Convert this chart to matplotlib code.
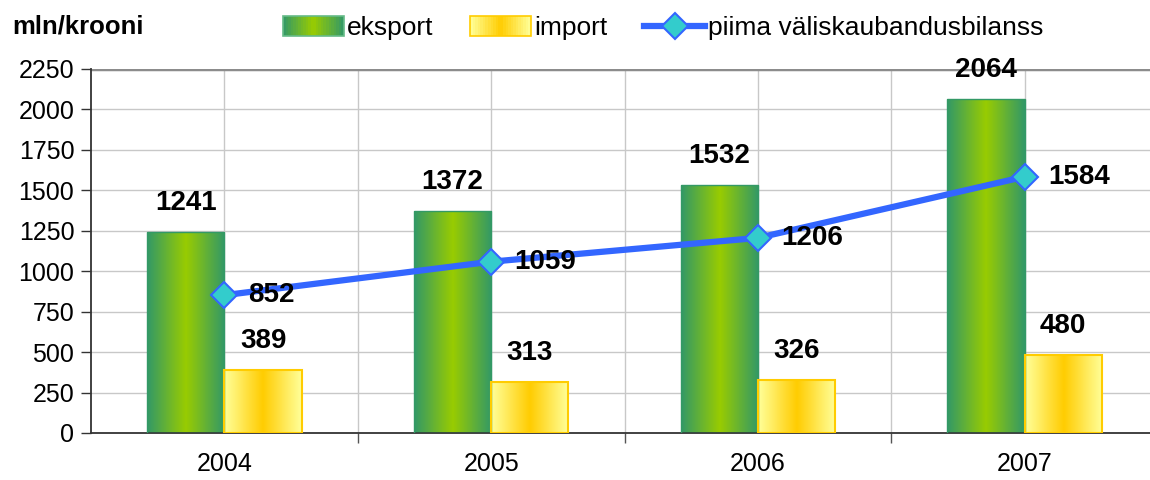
import matplotlib
matplotlib.use("Agg")
import matplotlib.pyplot as plt
import numpy as np
from matplotlib.colors import LinearSegmentedColormap
from matplotlib.legend_handler import HandlerBase
from matplotlib.lines import Line2D
from matplotlib.patches import Rectangle

plt.rcParams["font.family"] = ["Liberation Sans", "DejaVu Sans"]

years = ["2004", "2005", "2006", "2007"]
eksport = [1241, 1372, 1532, 2064]
import_ = [389, 313, 326, 480]
bilanss = [852, 1059, 1206, 1584]

GREEN_EDGE = "#339966"
GREEN_MID = "#99CC00"
YELLOW_EDGE = "#FFFF99"
YELLOW_MID = "#FFCC00"


def gradient_row(edge, mid, n=64):
    cmap = LinearSegmentedColormap.from_list("g", [edge, mid, edge])
    return cmap(np.linspace(0, 1, n))[None, :, :]


class GradientHandler(HandlerBase):
    def __init__(self, edge, mid, border):
        super().__init__()
        self.edge, self.mid, self.border = edge, mid, border

    def create_artists(self, legend, orig_handle, xdescent, ydescent,
                       width, height, fontsize, trans):
        cmap = LinearSegmentedColormap.from_list("g", [self.edge, self.mid, self.edge])
        n = 24
        h = height * 1.1
        y0 = -ydescent - (h - height) / 2
        out = []
        for i in range(n):
            out.append(Rectangle((-xdescent + i * width / n, y0), width / n + 0.3, h,
                                 facecolor=cmap((i + 0.5) / n), edgecolor="none",
                                 transform=trans))
        out.append(Rectangle((-xdescent, y0), width, h, fill=False,
                             edgecolor=self.border, lw=1.2, transform=trans))
        return out


fig = plt.figure(figsize=(11.5, 4.8), dpi=100)
ax = fig.add_axes([91 / 1150, 1 - 433 / 480, 1 - 91 / 1150, (433 - 69) / 480])

x = np.arange(len(years))
w = 0.29

b1 = ax.bar(x - w / 2, eksport, w, facecolor="none", edgecolor=GREEN_EDGE, lw=1, zorder=3)
b2 = ax.bar(x + w / 2, import_, w, facecolor="none", edgecolor=YELLOW_MID, lw=1.5, zorder=3)

for bars, edge, mid in [(b1, GREEN_EDGE, GREEN_MID), (b2, YELLOW_EDGE, YELLOW_MID)]:
    img = gradient_row(edge, mid)
    for r in bars:
        ax.imshow(img, extent=(r.get_x(), r.get_x() + r.get_width(), 0, r.get_height()),
                  aspect="auto", zorder=2, interpolation="bilinear")

ax.set_xlim(-0.5, 3.47)
ax.set_ylim(0, 2250)

ax.plot(x, bilanss, color="#3366FF", lw=4.5, marker="D", markersize=13,
        markerfacecolor="#33CCCC", markeredgecolor="#3366FF", markeredgewidth=1.5, zorder=5)

for xi, v in zip(x, eksport):
    ax.annotate(str(v), (xi - w / 2, v), xytext=(0, 21), textcoords="offset points",
                ha="center", va="center", fontsize=20, fontweight="bold", zorder=6)
for xi, v in zip(x, import_):
    ax.annotate(str(v), (xi + w / 2, v), xytext=(0, 21), textcoords="offset points",
                ha="center", va="center", fontsize=20, fontweight="bold", zorder=6)
for xi, v in zip(x, bilanss):
    ax.annotate(str(v), (xi, v), xytext=(17, 0), textcoords="offset points",
                ha="left", va="center", fontsize=20, fontweight="bold", zorder=6)

# grid
ax.set_yticks(np.arange(0, 2251, 250))
ax.tick_params(axis="y", labelsize=18, direction="out", length=7, width=1,
               color="#333333", pad=5)
for yv in np.arange(250, 2001, 250):
    ax.axhline(yv, color="#C8C8C8", lw=1, zorder=0)
ax.axhline(2250, color="#8C8C8C", lw=2.5, zorder=1)
for xv in np.arange(-0.5, 3.6, 0.5)[1:]:
    ax.axvline(xv, color="#C8C8C8", lw=1, zorder=0)

ax.set_xticks(np.arange(0.5, 3.0, 1.0))
ax.set_xticks(x, minor=True)
ax.set_xticklabels([])
ax.set_xticklabels(years, minor=True, fontsize=18)
ax.tick_params(axis="x", which="major", direction="out", length=7, width=1, color="#555555")
ax.tick_params(axis="x", which="minor", length=0, pad=14)

for s in ["top", "right"]:
    ax.spines[s].set_visible(False)
ax.spines["left"].set_color("#333333")
ax.spines["bottom"].set_color("#333333")
ax.spines["left"].set_linewidth(1.3)
ax.spines["bottom"].set_linewidth(1.3)

fig.text(12 / 1150, 1 - 26 / 480, "mln/krooni", fontsize=18.5, fontweight="bold",
         ha="left", va="center")

h_exp = Rectangle((0, 0), 1, 1)
h_imp = Rectangle((0, 0), 1, 1)
h_line = Line2D([], [], color="#3366FF", lw=4.5, marker="D", markersize=13,
                markerfacecolor="#33CCCC", markeredgecolor="#3366FF", markeredgewidth=1.5)
fig.legend([h_exp, h_imp, h_line], ["eksport", "import", "piima väliskaubandusbilanss"],
           handler_map={h_exp: GradientHandler(GREEN_EDGE, GREEN_MID, "#66BB88"),
                        h_imp: GradientHandler(YELLOW_EDGE, YELLOW_MID, YELLOW_MID)},
           loc="center left", bbox_to_anchor=(283 / 1150, 1 - 28 / 480), ncol=3,
           frameon=False, fontsize=19, handlelength=2.3, handletextpad=0.12,
           columnspacing=1.4, borderpad=0, borderaxespad=0)

fig.savefig("out.png", dpi=100)
